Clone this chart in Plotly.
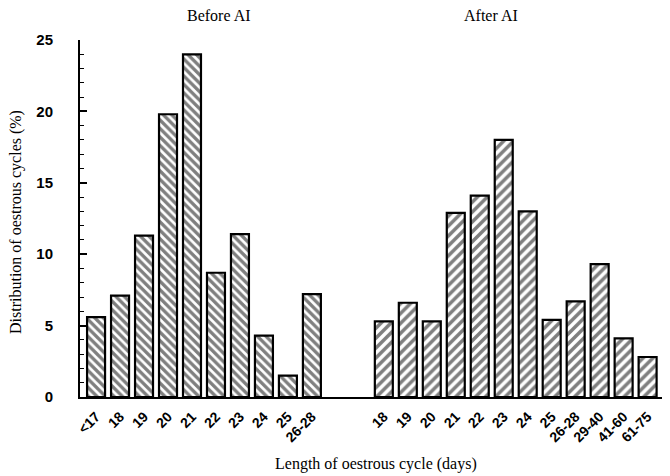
import plotly.graph_objects as go

before_labels = ["<17", "18", "19", "20", "21", "22", "23", "24", "25", "26-28"]
before_values = [5.6, 7.1, 11.3, 19.8, 24.0, 8.7, 11.4, 4.3, 1.5, 7.2]
after_labels = ["18", "19", "20", "21", "22", "23", "24", "25", "26-28", "29-40", "41-60", "61-75"]
after_values = [5.3, 6.6, 5.3, 12.9, 14.1, 18.0, 13.0, 5.4, 6.7, 9.3, 4.1, 2.8]

before_x = list(range(len(before_labels)))
after_x = [len(before_labels) + 2 + i for i in range(len(after_labels))]

fig = go.Figure()
fig.add_trace(go.Bar(
    x=before_x, y=before_values, width=0.75,
    marker=dict(color="white", line=dict(color="black", width=2.2),
                pattern=dict(shape="\\", fgcolor="black", bgcolor="white", size=6, solidity=0.55)),
    showlegend=False))
fig.add_trace(go.Bar(
    x=after_x, y=after_values, width=0.75,
    marker=dict(color="white", line=dict(color="black", width=2.2),
                pattern=dict(shape="/", fgcolor="black", bgcolor="white", size=7, solidity=0.5)),
    showlegend=False))

serif = "Liberation Serif"
OFF = 8  # page body margin offset
W, H = 670 - OFF, 476 - OFF
L, T = 80 - OFF, 40 - OFF
R = W - (668 - OFF)
B = H - (397 - OFF)
plot_w = W - L - R
plot_h = H - T - B

def ref_y(py):
    return (H - B - (py - OFF)) / plot_h

def ref_x(px):
    return ((px - OFF) - L) / plot_w

fig.update_layout(
    width=W, height=H,
    margin=dict(l=L, r=R, t=T, b=B),
    paper_bgcolor="white", plot_bgcolor="white",
    font=dict(family=serif, color="black"),
    xaxis=dict(
        range=[-0.67, 23.85],
        tickmode="array",
        tickvals=before_x + after_x,
        ticktext=before_labels + after_labels,
        tickangle=-45,
        tickfont=dict(family="Liberation Sans", size=14, color="black", weight="bold"),
        showline=True, linecolor="black", linewidth=2,
        showgrid=False, zeroline=False, ticks="outside", ticklen=4, tickcolor="rgba(0,0,0,0)",
        automargin=False,
    ),
    yaxis=dict(
        range=[0, 25],
        tickvals=[0, 5, 10, 15, 20, 25],
        tickfont=dict(family="Liberation Sans", size=15, color="black", weight="bold"),
        ticklabelstandoff=22,
        showline=True, linecolor="black", linewidth=2,
        showgrid=False, zeroline=False,
        ticks="inside", ticklen=7, tickwidth=2, tickcolor="black",
        minor=dict(ticks="inside", ticklen=4, dtick=1, tickcolor="black", tickwidth=1),
        automargin=False,
    ),
    annotations=[
        dict(text="Before AI", x=ref_x(185), xref="paper", y=ref_y(15), yref="paper",
             yanchor="middle", showarrow=False, font=dict(family=serif, size=16)),
        dict(text="After AI", x=ref_x(520), xref="paper", y=ref_y(15), yref="paper",
             yanchor="middle", showarrow=False, font=dict(family=serif, size=16)),
        dict(text="Length of oestrous cycle (days)", x=ref_x(376), xref="paper",
             y=ref_y(464), yref="paper", yanchor="middle", showarrow=False,
             font=dict(family=serif, size=16)),
        dict(text="Distribution of oestrous cycles (%)", x=ref_x(16), xref="paper",
             y=ref_y(222), yref="paper", xanchor="center", yanchor="middle",
             textangle=-90, showarrow=False, font=dict(family=serif, size=16)),
    ],
)

fig.write_html("out.html")
